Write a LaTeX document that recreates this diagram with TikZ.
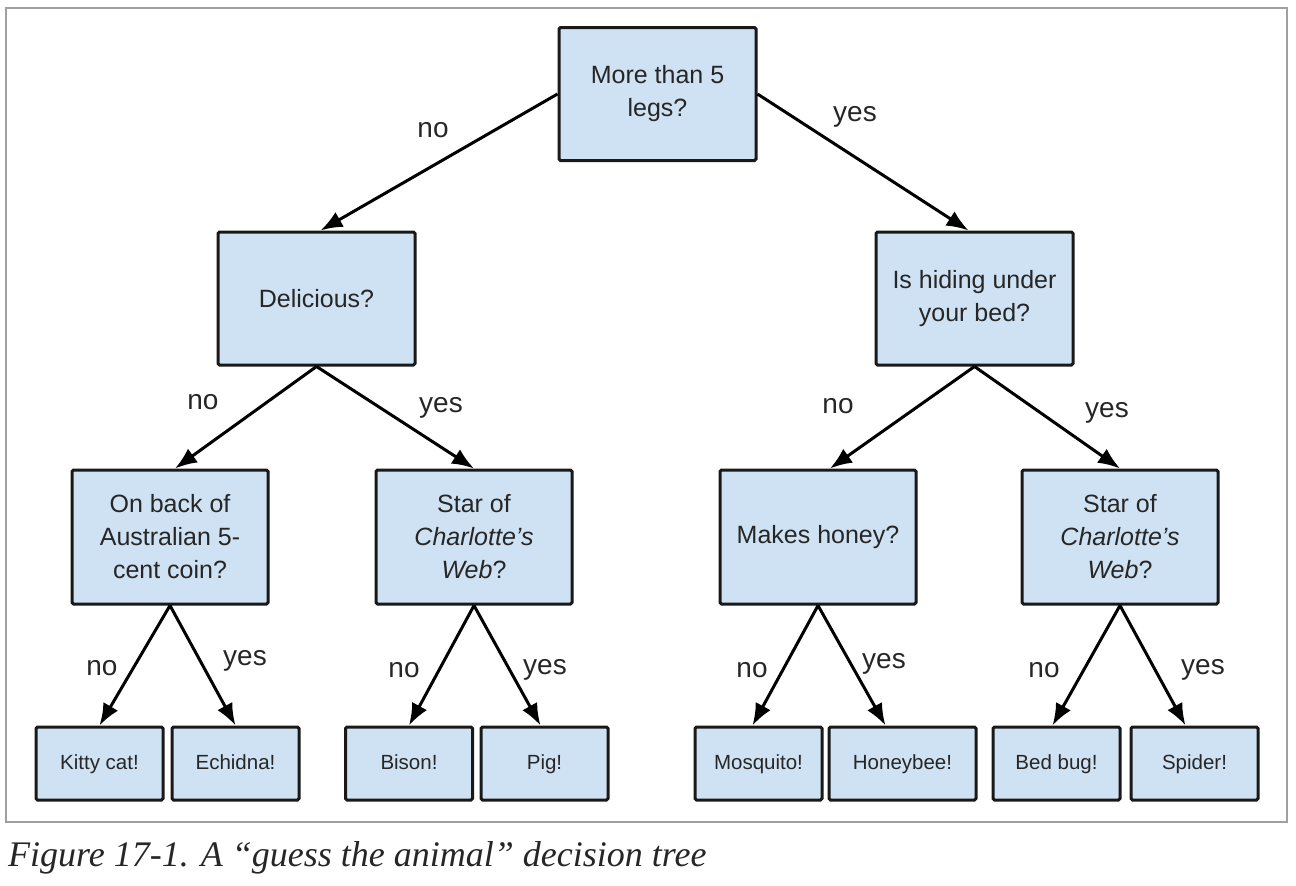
\documentclass[tikz,border=0pt]{standalone}
\usepackage{fontspec}
\setmainfont{Liberation Sans}
\newfontfamily\capfont{Liberation Serif}
\usetikzlibrary{arrows.meta}
\definecolor{boxblue}{HTML}{CFE2F3}
\definecolor{framegray}{HTML}{A0A0A0}
\begin{document}
\begin{tikzpicture}[x=1pt,y=-1pt,
  qbox/.style={draw=black!90, line width=3pt, fill=boxblue, rounded corners=1.5pt, align=center, text=black!85, font=\fontsize{25}{33}\selectfont, minimum width=197pt, minimum height=133pt, inner sep=0pt},
  leaf/.style={qbox, font=\fontsize{20.5}{24}\selectfont, text height=15pt, text depth=4pt, minimum width=127pt, minimum height=73pt},
  edge/.style={draw=black, line width=3pt, -{Latex[length=22pt,width=17pt]}},
  lbl/.style={font=\fontsize{28}{32}\selectfont, text=black!85, inner sep=0pt}
]
\useasboundingbox (0,0) rectangle (1296,886);
\draw[framegray, line width=1.5pt] (6,8) rectangle (1287,822);

% question nodes
\node[qbox] (root) at (657.5,94) {More than 5\\legs?};
\node[qbox] (del) at (316.5,298.5) {Delicious?};
\node[qbox] (hide) at (974.5,298.5) {Is hiding under\\your bed?};
\node[qbox, minimum width=196pt, minimum height=134pt] (coin) at (170,537) {On back of\\Australian 5-\\cent coin?};
\node[qbox, minimum width=196pt, minimum height=134pt] (star1) at (474,537) {Star of\\\textit{Charlotte’s}\\\textit{Web}?};
\node[qbox, minimum width=196pt, minimum height=134pt] (honey) at (818,537) {Makes honey?};
\node[qbox, minimum width=196pt, minimum height=134pt] (star2) at (1120,537) {Star of\\\textit{Charlotte’s}\\\textit{Web}?};

% leaves
\node[leaf] (kitty) at (99.5,763.5) {Kitty cat!};
\node[leaf] (echidna) at (235.5,763.5) {Echidna!};
\node[leaf] (bison) at (409,763.5) {Bison!};
\node[leaf] (pig) at (544.5,763.5) {Pig!};
\node[leaf] (mosquito) at (758.5,763.5) {Mosquito!};
\node[leaf, minimum width=147pt] (honeybee) at (902.5,763.5) {Honeybee!};
\node[leaf] (bedbug) at (1056.5,763.5) {Bed bug!};
\node[leaf] (spider) at (1194.5,763.5) {Spider!};

% connectors
\draw[edge] (root.west) -- ([xshift=4pt]del.north);
\draw[edge] (root.east) -- ([xshift=-6pt]hide.north);
\draw[edge] (del.south) -- ([xshift=5pt]coin.north);
\draw[edge] (del.south) -- (star1.north);
\draw[edge] (hide.south) -- ([xshift=12pt]honey.north);
\draw[edge] (hide.south) -- (star2.north);
\draw[edge] (coin.south) -- (kitty.north);
\draw[edge] (coin.south) -- (echidna.north);
\draw[edge] (star1.south) -- (bison.north);
\draw[edge] (star1.south) -- ([xshift=-4pt]pig.north);
\draw[edge] (honey.south) -- ([xshift=-6pt]mosquito.north);
\draw[edge] (honey.south) -- ([xshift=-17pt]honeybee.north);
\draw[edge] (star2.south) -- ([xshift=-4pt]bedbug.north);
\draw[edge] (star2.south) -- ([xshift=-9pt]spider.north);

% edge labels
\node[lbl] (l1) at (433,130) {no};
\node[lbl] (l2) at (855,117) {yes};
\node[lbl] (l3) at (203,402) {no};
\node[lbl] (l4) at (441,408) {yes};
\node[lbl] (l5) at (838,406) {no};
\node[lbl] (l6) at (1107,413) {yes};
\node[lbl] (l7) at (102,668) {no};
\node[lbl] (l8) at (245,661) {yes};
\node[lbl] (l9) at (404,670) {no};
\node[lbl] (l10) at (545,670) {yes};
\node[lbl] (l11) at (752,670) {no};
\node[lbl] (l12) at (884,664) {yes};
\node[lbl] (l13) at (1044,670) {no};
\node[lbl] (l14) at (1203,670) {yes};

% caption
\node[anchor=base west, inner sep=0pt, text=black!85, font=\fontsize{36}{40}\capfont\itshape] (cap) at (8,866) {Figure 17-1. A “guess the animal” decision tree};
\end{tikzpicture}
\end{document}
